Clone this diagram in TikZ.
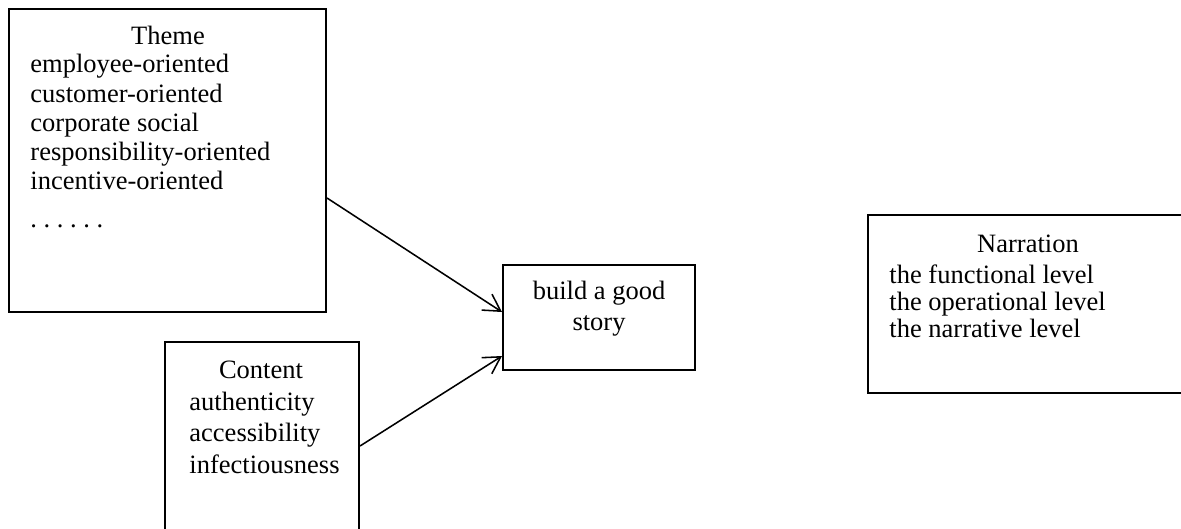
\documentclass[tikz,border=0pt]{standalone}
\usepackage{fontspec}
\setmainfont{Liberation Serif}
\usetikzlibrary{arrows.meta,fit,calc}

\begin{document}
\begin{tikzpicture}[
    x=0.4528pt, y=-0.4528pt,
    box/.style={draw, line width=0.9pt, inner sep=0pt},
    txt/.style={font=\fontsize{12pt}{13.25pt}\selectfont, inner sep=0pt},
    lines/.style={txt, align=left, anchor=base west},
    link/.style={-{Straight Barb[length=7.5pt,width=8.6pt]}, line width=0.7pt}
  ]
  \useasboundingbox (0,0) rectangle (1181,528);
  \clip (0,0) rectangle (1181,528);

  % frames
  \node[box, fit={(9,9) (326,312)}] (theme) {};
  \node[box, fit={(165,342) (359,560)}] (content) {};
  \node[box, fit={(503,265) (695,370)}] (build) {};
  \node[box, fit={(868,215) (1200,393)}] (narration) {};

  % texts (base anchor = last line)
  \node[txt, anchor=base] (themetitle) at (168,44) {Theme};
  \node[lines] (themelist) at (30,227)
    {employee-oriented\\customer-oriented\\corporate social\\
     responsibility-oriented\\incentive-oriented\\[3.6pt].~.~.~.~.~.};
  \node[txt, anchor=base] (contenttitle) at (261,378) {Content};
  \node[lines, font=\fontsize{12pt}{14.2pt}\selectfont] (contentlist) at (189,473)
    {authenticity\\accessibility\\infectiousness};
  \node[txt, align=center, anchor=base, font=\fontsize{12pt}{13.6pt}\selectfont]
    (buildtext) at (599,330) {build a good\\story};
  \node[txt, anchor=base] (narrationtitle) at (1028,252) {Narration};
  \node[lines, font=\fontsize{12pt}{12.2pt}\selectfont] (narrationlist) at (889,337)
    {the functional level\\the operational level\\the narrative level};

  % arrows
  \draw[link] ($(theme.south east)+(0,-115)$) -- ($(build.west)+(0,-5.5)$);
  \draw[link] ($(content.north east)+(0,105)$) -- ($(build.south west)+(0,-15)$);
\end{tikzpicture}
\end{document}
